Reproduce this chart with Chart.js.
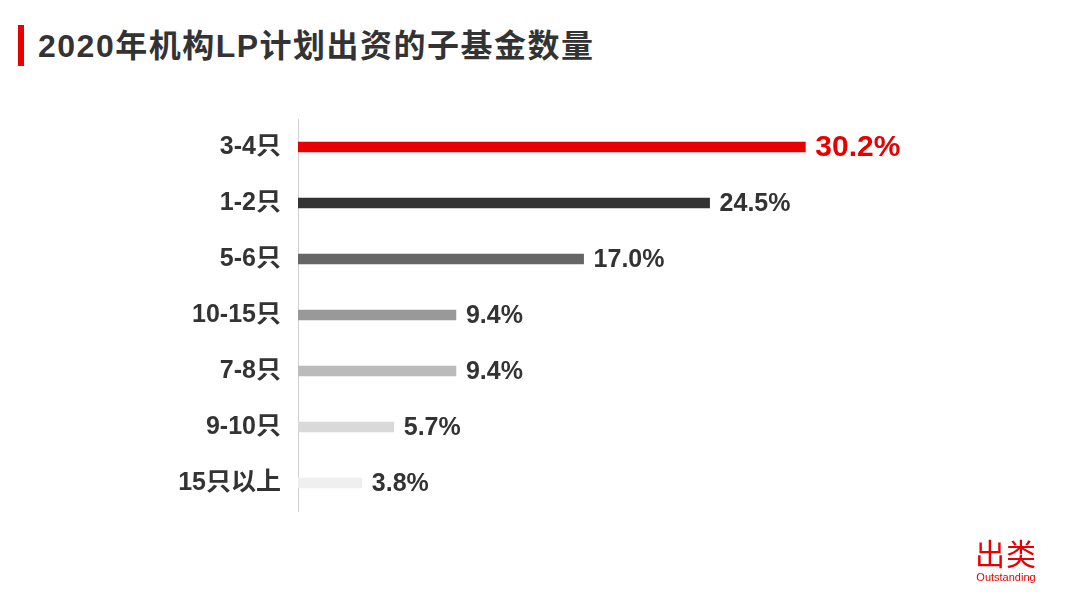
<!DOCTYPE html>
<html>
<head>
<meta charset="utf-8">
<script src="https://cdn.jsdelivr.net/npm/chart.js@4/dist/chart.umd.min.js"></script>
<style>
  html, body { margin: 0; padding: 0; background: #fff; }
  #wrap { position: relative; width: 1080px; height: 608px; overflow: hidden; }
  #chart { position: absolute; left: 0; top: 0; }
  .titleBar { position: absolute; left: 18px; top: 25px; width: 6px; height: 41px; background: #e60000; }
  .title { position: absolute; left: 38px; top: 25px; font: bold 32px "Liberation Sans", "Noto Sans CJK SC", sans-serif; color: #333; letter-spacing: 1.5px; line-height: 42px; }
  .logo { position: absolute; left: 972px; top: 534px; color: #e60000; text-align: center; width: 68px; }
  .logo .cn { font: 30px "Noto Sans CJK SC", sans-serif; line-height: 36px; letter-spacing: 1px; }
  .logo .en { font: 11px "Liberation Sans", sans-serif; line-height: 14px; }
</style>
</head>
<body>
<div id="wrap">
  <div class="titleBar"></div>
  <div class="title">2020年机构LP计划出资的子基金数量</div>
  <canvas id="chart" width="1080" height="608"></canvas>
  <div class="logo"><div class="cn">出类</div><div class="en">Outstanding</div></div>
</div>
<script>
// 2020 LP planned sub-fund counts, share of institutions

var categories = ['3-4只', '1-2只', '5-6只', '10-15只', '7-8只', '9-10只', '15只以上'];
var shares = [30.2, 24.5, 17.0, 9.4, 9.4, 5.7, 3.8];
var shareLabels = ['30.2%', '24.5%', '17.0%', '9.4%', '9.4%', '5.7%', '3.8%'];
var barColors = ['#e60000', '#333333', '#666666', '#999999', '#bbbbbb', '#d9d9d9', '#efefef'];

var FONT = '"Liberation Sans", "Noto Sans CJK SC", sans-serif';

var valueLabels = {
  id: 'valueLabels',
  afterDatasetsDraw: function(chart) {
    var ctx = chart.ctx;
    var meta = chart.getDatasetMeta(0);
    ctx.save();
    ctx.textBaseline = 'middle';
    ctx.textAlign = 'left';
    for (var i = 0; i < meta.data.length; i++) {
      var bar = meta.data[i];
      if (i === 0) {
        ctx.fillStyle = '#e60000';
        ctx.font = 'bold 30px ' + FONT;
      } else {
        ctx.fillStyle = '#333333';
        ctx.font = 'bold 25px ' + FONT;
      }
      ctx.fillText(shareLabels[i], bar.x + 10, bar.y + 1);
    }
    ctx.restore();
  }
};

function fixAxisWidth(scale) {
  scale.width = 298;
}

var config = {
  type: 'bar',
  data: {
    labels: categories,
    datasets: [{
      data: shares,
      backgroundColor: barColors,
      barThickness: 10
    }]
  },
  options: {
    indexAxis: 'y',
    responsive: false,
    animation: false,
    layout: { padding: { left: 0, right: 194, top: 119, bottom: 97 } },
    plugins: {
      legend: { display: false },
      tooltip: { enabled: false }
    },
    scales: {
      x: { display: false, min: 0, max: 35 },
      y: {
        afterFit: fixAxisWidth,
        grid: { display: false, drawTicks: false },
        border: { display: true, color: '#d0d0d0', width: 1 },
        ticks: {
          padding: 17,
          color: '#333333',
          font: { family: FONT, size: 25, weight: 'bold' }
        }
      }
    }
  },
  plugins: [valueLabels]
};

new Chart(document.getElementById('chart').getContext('2d'), config);
</script>
</body>
</html>
